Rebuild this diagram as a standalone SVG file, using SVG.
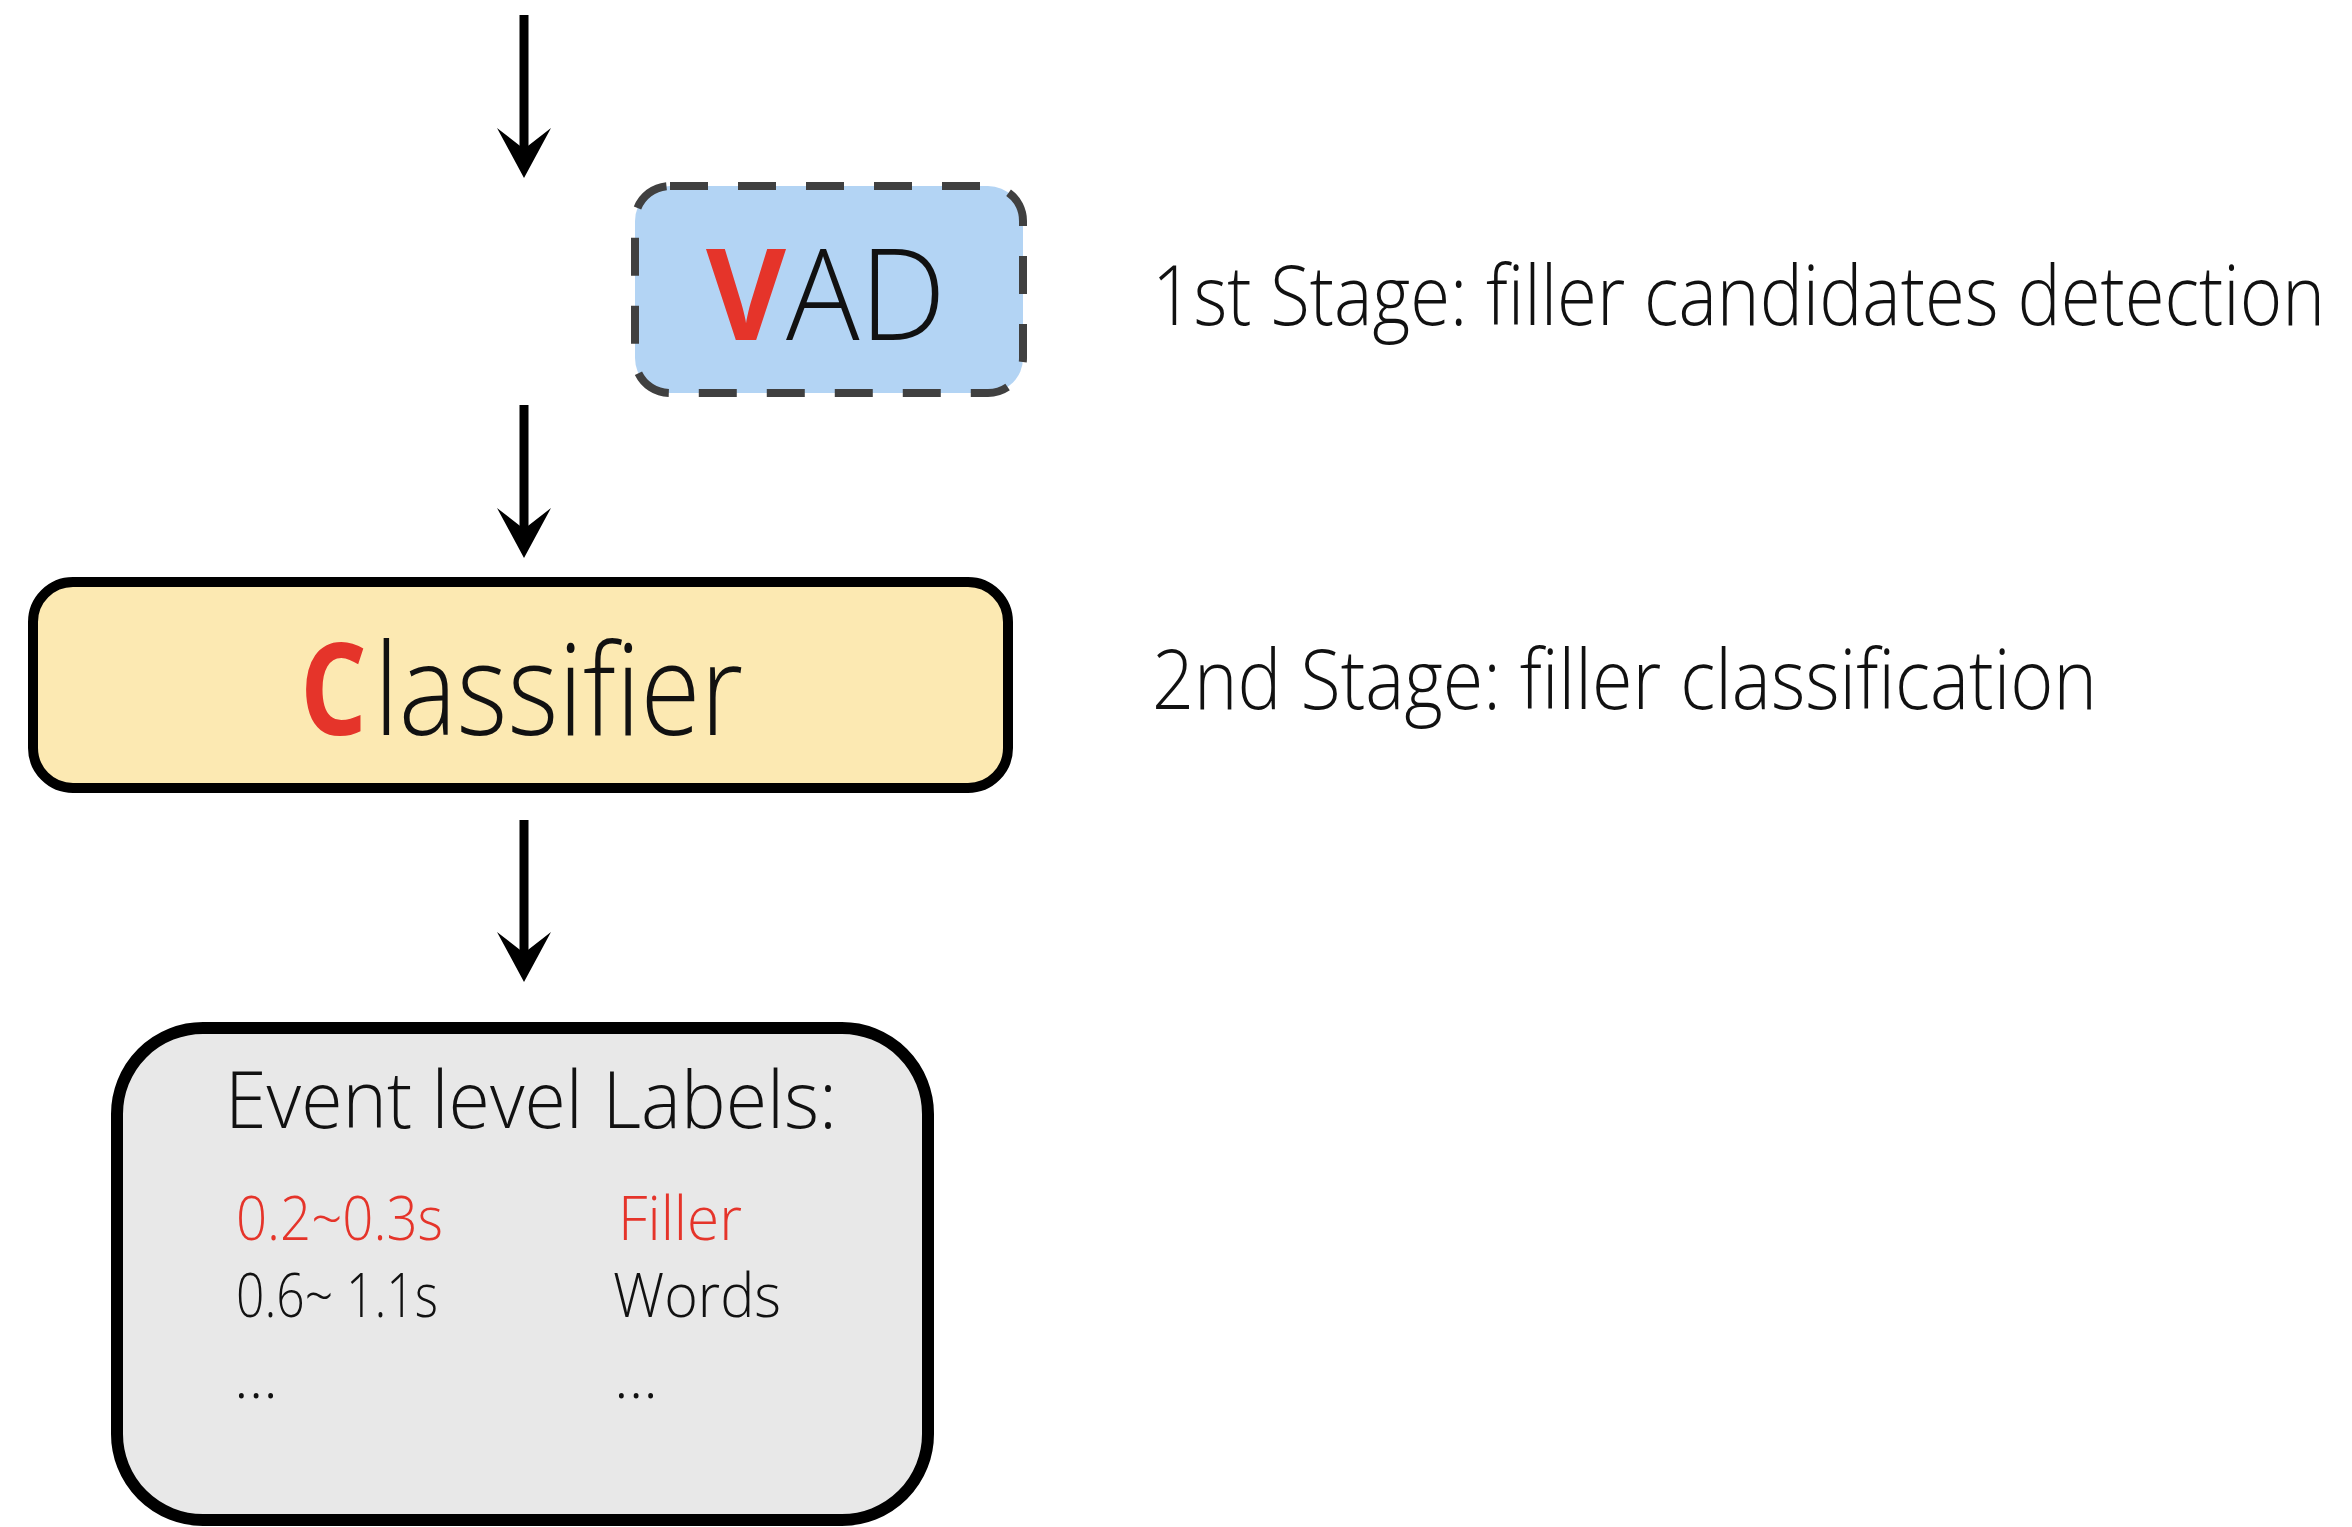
<svg xmlns="http://www.w3.org/2000/svg" width="2352" height="1527" viewBox="0 0 2352 1527">
  <style>
    text { font-family: "Open Sans", "Noto Sans", "Liberation Sans", sans-serif; fill: #111; font-weight: 300; }
    .red { fill: #e5342a; }
    .bold { font-weight: 700; }
    .stem { stroke: #000; stroke-width: 9; fill: none; marker-end: url(#head); }
    .big { font-size: 128px; }
    .stage { font-size: 82px; }
    .row { font-size: 60px; }
  </style>
  <defs>
    <!-- barbed arrowhead, anchored at its notch -->
    <marker id="head" markerUnits="userSpaceOnUse" orient="auto" refX="0" refY="0"
            markerWidth="1" markerHeight="1" overflow="visible">
      <path d="M29,0 L-21,-27 L0,0 L-21,27 Z" fill="#000"/>
    </marker>
  </defs>

  <rect width="2352" height="1527" fill="#fff"/>

  <g id="connectors">
    <line class="stem" x1="524" y1="15" x2="524" y2="149"/>
    <line class="stem" x1="524" y1="405" x2="524" y2="529"/>
    <line class="stem" x1="524" y1="820" x2="524" y2="953"/>
  </g>

  <g id="vad">
    <rect x="635" y="186" width="388" height="207" rx="35" fill="#b3d4f4"
          stroke="#404040" stroke-width="8" stroke-dasharray="38 30"/>
    <text class="big" y="340"><tspan class="red bold" x="706" textLength="80" lengthAdjust="spacingAndGlyphs">V</tspan><tspan x="786" textLength="160" lengthAdjust="spacingAndGlyphs">AD</tspan></text>
  </g>

  <g id="classifier">
    <rect x="33" y="582" width="975" height="206" rx="40" fill="#fce9b2" stroke="#000" stroke-width="10"/>
    <text class="big" y="735"><tspan class="red bold" x="300" textLength="67" lengthAdjust="spacingAndGlyphs">C</tspan><tspan x="374" textLength="369" lengthAdjust="spacingAndGlyphs">lassifier</tspan></text>
  </g>

  <g id="event-labels">
    <rect x="117" y="1028" width="811" height="492" rx="86" fill="#e8e8e8" stroke="#000" stroke-width="12"/>
    <text x="225" y="1128" font-size="80" textLength="612" lengthAdjust="spacingAndGlyphs">Event level Labels:</text>
    <text class="row red" x="236" y="1240" textLength="207" lengthAdjust="spacingAndGlyphs">0.2~0.3s</text>
    <text class="row red" x="618" y="1240" textLength="124" lengthAdjust="spacingAndGlyphs">Filler</text>
    <text class="row" x="236" y="1317" textLength="202" lengthAdjust="spacingAndGlyphs">0.6~ 1.1s</text>
    <text class="row" x="613" y="1317" textLength="168" lengthAdjust="spacingAndGlyphs">Words</text>
    <text class="row" x="234" y="1398" textLength="44" lengthAdjust="spacingAndGlyphs">...</text>
    <text class="row" x="614" y="1398" textLength="44" lengthAdjust="spacingAndGlyphs">...</text>
  </g>

  <g id="stage-notes">
    <!-- condensed horizontally to the narrow face of the notes -->
    <text class="stage" transform="translate(1152,325) scale(0.75,1)" x="0" y="0" textLength="1564" lengthAdjust="spacingAndGlyphs">1st Stage: filler candidates detection</text>
    <text class="stage" transform="translate(1152,709) scale(0.75,1)" x="0" y="0" textLength="1260" lengthAdjust="spacingAndGlyphs">2nd Stage: filler classification</text>
  </g>
</svg>
